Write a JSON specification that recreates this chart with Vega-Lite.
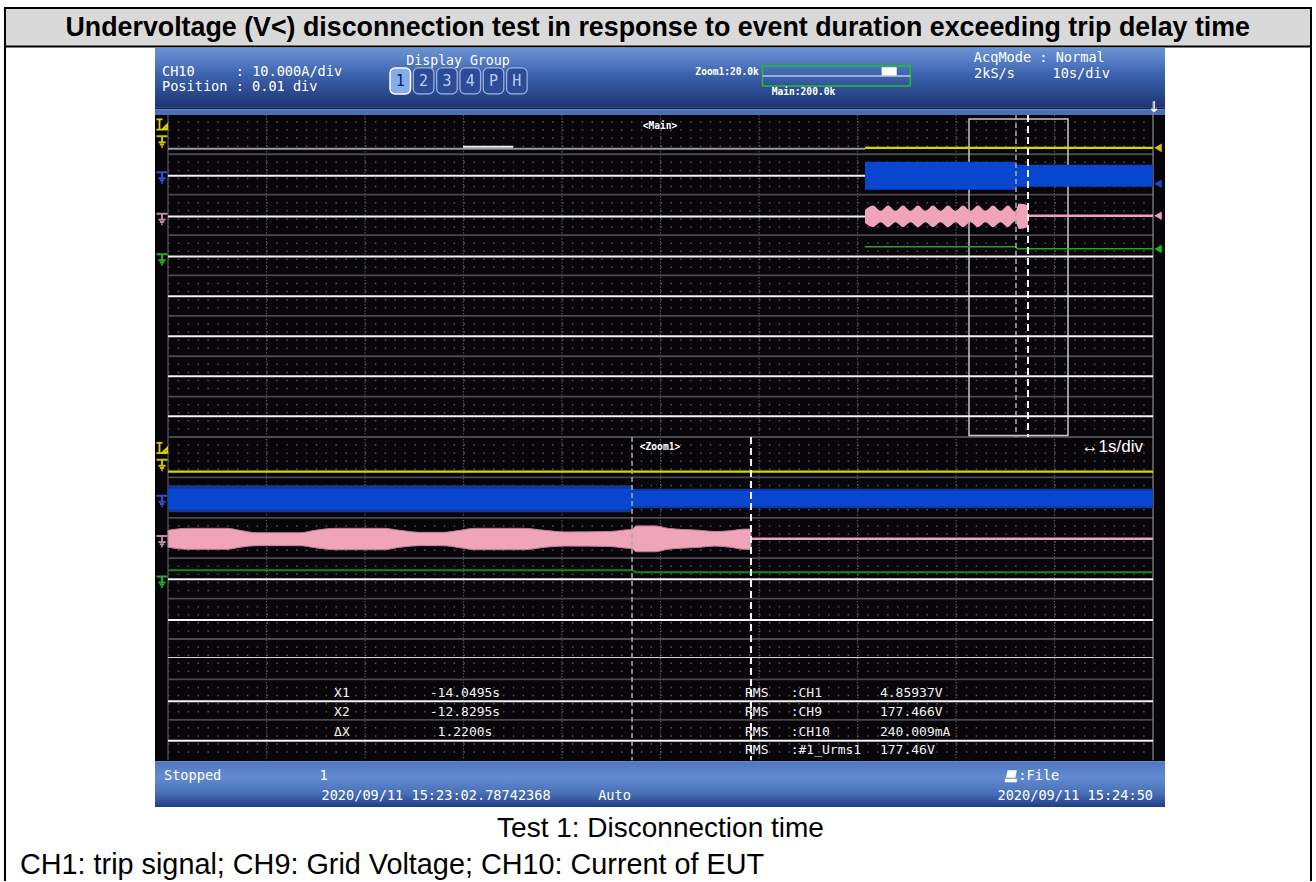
{
"$schema": "https://vega.github.io/schema/vega-lite/v6.json",
"width": 1316, "height": 882,
"autosize": {"type": "fit", "contains": "padding"},
"padding": 0,
"background": "#ffffff",
"config": {"view": {"stroke": null}},
"layer": [
{"data": {"values": [{"d": -1.655, "d2": 11.604, "z": -2.621, "z2": -1.669}]},
 "mark": {"type": "rect", "color": "#d9d9d9"},
 "encoding": {"x": {"field": "d", "type": "quantitative", "scale": {"domain": [-1.70558, 11.65482]}, "axis": null}, "x2": {"field": "d2"},
  "y": {"field": "z", "type": "quantitative", "scale": {"domain": [-2.81899, 18.9911], "reverse": true}, "axis": null}, "y2": {"field": "z2"}}},
{"data": {"values": [{"d": -1.665, "d2": 11.614, "z": -2.621}, {"d": -1.665, "d2": 11.614, "z": -1.669}]},
 "mark": {"type": "rule", "color": "#000000", "strokeWidth": 2},
 "encoding": {"x": {"field": "d", "type": "quantitative", "scale": {"domain": [-1.70558, 11.65482]}, "axis": null}, "x2": {"field": "d2"},
  "y": {"field": "z", "type": "quantitative", "scale": {"domain": [-2.81899, 18.9911], "reverse": true}, "axis": null}}},
{"data": {"values": [{"d": -1.655, "z": -2.645, "z2": 18.99}, {"d": 11.604, "z": -2.645, "z2": 18.99}]},
 "mark": {"type": "rule", "color": "#000000", "strokeWidth": 2},
 "encoding": {"x": {"field": "d", "type": "quantitative", "scale": {"domain": [-1.70558, 11.65482]}, "axis": null},
  "y": {"field": "z", "type": "quantitative", "scale": {"domain": [-2.81899, 18.9911], "reverse": true}, "axis": null}, "y2": {"field": "z2"}}},
{"data": {"values": [{"d": 4.972, "z": -2.13, "t": "Undervoltage (V<) disconnection test in response to event duration exceeding trip delay time"}]},
 "mark": {"type": "text", "font": "Liberation Sans", "fontWeight": "bold", "fontSize": 26.8, "color": "#000000", "align": "center", "baseline": "middle"},
 "encoding": {"x": {"field": "d", "type": "quantitative", "scale": {"domain": [-1.70558, 11.65482]}, "axis": null},
  "y": {"field": "z", "type": "quantitative", "scale": {"domain": [-2.81899, 18.9911], "reverse": true}, "axis": null}, "text": {"field": "t"}}},
{"data": {"values": [{"d": -0.132, "d2": 10.122, "z": -1.632, "z2": -0.166}]},
 "mark": {"type": "rect", "color": {"gradient": "linear", "x1": 0, "y1": 0, "x2": 0, "y2": 1, "stops": [{"offset": 0, "color": "#6b94d8"}, {"offset": 0.45, "color": "#3d63ae"}, {"offset": 1, "color": "#1b3474"}]}},
 "encoding": {"x": {"field": "d", "type": "quantitative", "scale": {"domain": [-1.70558, 11.65482]}, "axis": null}, "x2": {"field": "d2"},
  "y": {"field": "z", "type": "quantitative", "scale": {"domain": [-2.81899, 18.9911], "reverse": true}, "axis": null}, "y2": {"field": "z2"}}},
{"data": {"values": [{"d": -0.132, "d2": 10.122, "z": -0.166, "z2": -0.116}]},
 "mark": {"type": "rect", "color": "#0e1c48"},
 "encoding": {"x": {"field": "d", "type": "quantitative", "scale": {"domain": [-1.70558, 11.65482]}, "axis": null}, "x2": {"field": "d2"},
  "y": {"field": "z", "type": "quantitative", "scale": {"domain": [-2.81899, 18.9911], "reverse": true}, "axis": null}, "y2": {"field": "z2"}}},
{"data": {"values": [{"d": -0.132, "d2": 10.122, "z": -0.116, "z2": 0.025}]},
 "mark": {"type": "rect", "color": "#4a6fb6"},
 "encoding": {"x": {"field": "d", "type": "quantitative", "scale": {"domain": [-1.70558, 11.65482]}, "axis": null}, "x2": {"field": "d2"},
  "y": {"field": "z", "type": "quantitative", "scale": {"domain": [-2.81899, 18.9911], "reverse": true}, "axis": null}, "y2": {"field": "z2"}}},
{"data": {"values": [{"d": -0.132, "d2": 10.122, "z": 0.025, "z2": 16.024}]},
 "mark": {"type": "rect", "color": "#070509"},
 "encoding": {"x": {"field": "d", "type": "quantitative", "scale": {"domain": [-1.70558, 11.65482]}, "axis": null}, "x2": {"field": "d2"},
  "y": {"field": "z", "type": "quantitative", "scale": {"domain": [-2.81899, 18.9911], "reverse": true}, "axis": null}, "y2": {"field": "z2"}}},
{"data": {"values": [{"d": -0.132, "d2": 10.122, "z": 16.024, "z2": 17.161}]},
 "mark": {"type": "rect", "color": {"gradient": "linear", "x1": 0, "y1": 0, "x2": 0, "y2": 1, "stops": [{"offset": 0, "color": "#4e76bf"}, {"offset": 0.35, "color": "#638bd0"}, {"offset": 0.7, "color": "#4870b9"}, {"offset": 1, "color": "#1f3c83"}]}},
 "encoding": {"x": {"field": "d", "type": "quantitative", "scale": {"domain": [-1.70558, 11.65482]}, "axis": null}, "x2": {"field": "d2"},
  "y": {"field": "z", "type": "quantitative", "scale": {"domain": [-2.81899, 18.9911], "reverse": true}, "axis": null}, "y2": {"field": "z2"}}},
{"data": {"values": [{"z": 0.2}, {"z": 0.4}, {"z": 0.6}, {"z": 0.8}, {"z": 1.2}, {"z": 1.4}, {"z": 1.6}, {"z": 1.8}, {"z": 2.2}, {"z": 2.4}, {"z": 2.6}, {"z": 2.8}, {"z": 3.2}, {"z": 3.4}, {"z": 3.6}, {"z": 3.8}, {"z": 4.2}, {"z": 4.4}, {"z": 4.6}, {"z": 4.8}, {"z": 5.2}, {"z": 5.4}, {"z": 5.6}, {"z": 5.8}, {"z": 6.2}, {"z": 6.4}, {"z": 6.6}, {"z": 6.8}, {"z": 7.2}, {"z": 7.4}, {"z": 7.6}, {"z": 7.8}, {"z": 8.2}, {"z": 8.4}, {"z": 8.6}, {"z": 8.8}, {"z": 9.2}, {"z": 9.4}, {"z": 9.6}, {"z": 9.8}, {"z": 10.2}, {"z": 10.4}, {"z": 10.6}, {"z": 10.8}, {"z": 11.2}, {"z": 11.4}, {"z": 11.6}, {"z": 11.8}, {"z": 12.2}, {"z": 12.4}, {"z": 12.6}, {"z": 12.8}, {"z": 13.2}, {"z": 13.4}, {"z": 13.6}, {"z": 13.8}, {"z": 14.2}, {"z": 14.4}, {"z": 14.6}, {"z": 14.8}, {"z": 15.2}, {"z": 15.4}, {"z": 15.6}, {"z": 15.8}]},
 "mark": {"type": "rule", "color": "#555555", "strokeWidth": 1.5, "strokeDash": [1.5, 8.35]},
 "encoding": {"x": {"datum": 0, "type": "quantitative", "scale": {"domain": [-1.70558, 11.65482]}, "axis": null}, "x2": {"datum": 10},
  "y": {"field": "z", "type": "quantitative", "scale": {"domain": [-2.81899, 18.9911], "reverse": true}, "axis": null}}},
{"data": {"values": [{"d": 1}, {"d": 2}, {"d": 3}, {"d": 4}, {"d": 5}, {"d": 6}, {"d": 7}, {"d": 8}, {"d": 9}]},
 "mark": {"type": "rule", "color": "#505050", "strokeWidth": 1.2, "strokeDash": [1.5, 1.5]},
 "encoding": {"x": {"field": "d", "type": "quantitative", "scale": {"domain": [-1.70558, 11.65482]}, "axis": null},
  "y": {"datum": 0.03, "type": "quantitative", "scale": {"domain": [-2.81899, 18.9911], "reverse": true}, "axis": null}, "y2": {"datum": 16.0}}},
{"data": {"values": [{"z": 1}, {"z": 2}, {"z": 3}, {"z": 4}, {"z": 5}, {"z": 6}, {"z": 7}, {"z": 8}, {"z": 9}, {"z": 10}, {"z": 11}, {"z": 12}, {"z": 13}, {"z": 14}, {"z": 15}]},
 "mark": {"type": "rule", "color": "#4a4a4a", "strokeWidth": 1.8},
 "encoding": {"x": {"datum": 0, "type": "quantitative", "scale": {"domain": [-1.70558, 11.65482]}, "axis": null}, "x2": {"datum": 10},
  "y": {"field": "z", "type": "quantitative", "scale": {"domain": [-2.81899, 18.9911], "reverse": true}, "axis": null}}},
{"data": {"values": [{"d": 0}]},
 "mark": {"type": "rule", "color": "#4a4a4a", "strokeWidth": 1.5},
 "encoding": {"x": {"field": "d", "type": "quantitative", "scale": {"domain": [-1.70558, 11.65482]}, "axis": null},
  "y": {"datum": 0.025, "type": "quantitative", "scale": {"domain": [-2.81899, 18.9911], "reverse": true}, "axis": null}, "y2": {"datum": 16.0}}},
{"data": {"values": [{"d": 10}]},
 "mark": {"type": "rule", "color": "#8a8a8a", "strokeWidth": 1.2},
 "encoding": {"x": {"field": "d", "type": "quantitative", "scale": {"domain": [-1.70558, 11.65482]}, "axis": null},
  "y": {"datum": -0.3, "type": "quantitative", "scale": {"domain": [-2.81899, 18.9911], "reverse": true}, "axis": null}, "y2": {"datum": 16.0}}},
{"data": {"values": [{"d": 8.132, "d2": 9.137, "z": 0.124, "z2": 7.962}]},
 "mark": {"type": "rect", "fill": "transparent", "stroke": "#c8c8c8", "strokeWidth": 1.5},
 "encoding": {"x": {"field": "d", "type": "quantitative", "scale": {"domain": [-1.70558, 11.65482]}, "axis": null}, "x2": {"field": "d2"},
  "y": {"field": "z", "type": "quantitative", "scale": {"domain": [-2.81899, 18.9911], "reverse": true}, "axis": null}, "y2": {"field": "z2"}}},
{"data": {"values": [{"d": 0, "d2": 7.076, "z": 1.533}, {"d": 0, "d2": 7.076, "z": 2.54}, {"d": 0, "d2": 10, "z": 3.529}, {"d": 0, "d2": 10, "z": 4.518}, {"d": 0, "d2": 10, "z": 5.507}, {"d": 0, "d2": 10, "z": 6.496}, {"d": 0, "d2": 10, "z": 7.485}, {"d": 0, "d2": 10, "z": 11.523}, {"d": 0, "d2": 10, "z": 12.53}, {"d": 0, "d2": 10, "z": 14.54}, {"d": 0, "d2": 10, "z": 15.522}]},
 "mark": {"type": "rule", "color": "#f2f2f2", "strokeWidth": 2},
 "encoding": {"x": {"field": "d", "type": "quantitative", "scale": {"domain": [-1.70558, 11.65482]}, "axis": null}, "x2": {"field": "d2"},
  "y": {"field": "z", "type": "quantitative", "scale": {"domain": [-2.81899, 18.9911], "reverse": true}, "axis": null}}},
{"data": {"values": [{"d": 0, "d2": 10, "z": 13.459}]},
 "mark": {"type": "rule", "color": "#d8d8d8", "strokeWidth": 1},
 "encoding": {"x": {"field": "d", "type": "quantitative", "scale": {"domain": [-1.70558, 11.65482]}, "axis": null}, "x2": {"field": "d2"},
  "y": {"field": "z", "type": "quantitative", "scale": {"domain": [-2.81899, 18.9911], "reverse": true}, "axis": null}}},
{"data": {"values": [{"d": 0, "d2": 7.076, "z": 0.865}]},
 "mark": {"type": "rule", "color": "#9a9a9a", "strokeWidth": 2},
 "encoding": {"x": {"field": "d", "type": "quantitative", "scale": {"domain": [-1.70558, 11.65482]}, "axis": null}, "x2": {"field": "d2"},
  "y": {"field": "z", "type": "quantitative", "scale": {"domain": [-2.81899, 18.9911], "reverse": true}, "axis": null}}},
{"data": {"values": [{"d": 2.995, "d2": 3.503, "z": 0.816}]},
 "mark": {"type": "rule", "color": "#eeeeee", "strokeWidth": 2},
 "encoding": {"x": {"field": "d", "type": "quantitative", "scale": {"domain": [-1.70558, 11.65482]}, "axis": null}, "x2": {"field": "d2"},
  "y": {"field": "z", "type": "quantitative", "scale": {"domain": [-2.81899, 18.9911], "reverse": true}, "axis": null}}},
{"data": {"values": [{"d": 7.076, "d2": 10, "z": 0.84}, {"d": 0, "d2": 10, "z": 8.855}]},
 "mark": {"type": "rule", "color": "#d8d400", "strokeWidth": 2.2},
 "encoding": {"x": {"field": "d", "type": "quantitative", "scale": {"domain": [-1.70558, 11.65482]}, "axis": null}, "x2": {"field": "d2"},
  "y": {"field": "z", "type": "quantitative", "scale": {"domain": [-2.81899, 18.9911], "reverse": true}, "axis": null}}},
{"data": {"values": [{"d": 0, "d2": 4.711, "z": 9.196, "z2": 9.864}, {"d": 4.711, "d2": 10, "z": 9.283, "z2": 9.763}]},
 "mark": {"type": "rect", "color": "#15379a"},
 "encoding": {"x": {"field": "d", "type": "quantitative", "scale": {"domain": [-1.70558, 11.65482]}, "axis": null}, "x2": {"field": "d2"},
  "y": {"field": "z", "type": "quantitative", "scale": {"domain": [-2.81899, 18.9911], "reverse": true}, "axis": null}, "y2": {"field": "z2"}}},
{"data": {"values": [{"d": 7.076, "d2": 8.609, "z": 1.187, "z2": 1.879}, {"d": 8.609, "d2": 10, "z": 1.261, "z2": 1.805}, {"d": 0, "d2": 4.711, "z": 9.28, "z2": 9.792}, {"d": 4.711, "d2": 10, "z": 9.33, "z2": 9.711}]},
 "mark": {"type": "rect", "color": "#0846cf"},
 "encoding": {"x": {"field": "d", "type": "quantitative", "scale": {"domain": [-1.70558, 11.65482]}, "axis": null}, "x2": {"field": "d2"},
  "y": {"field": "z", "type": "quantitative", "scale": {"domain": [-2.81899, 18.9911], "reverse": true}, "axis": null}, "y2": {"field": "z2"}}},
{"data": {"values": [{"d": 7.076, "zt": 2.38, "zb": 2.70}, {"d": 7.157, "zt": 2.27, "zb": 2.80}, {"d": 7.234, "zt": 2.40, "zb": 2.68}, {"d": 7.310, "zt": 2.27, "zb": 2.80}, {"d": 7.386, "zt": 2.40, "zb": 2.68}, {"d": 7.462, "zt": 2.27, "zb": 2.80}, {"d": 7.538, "zt": 2.40, "zb": 2.68}, {"d": 7.614, "zt": 2.27, "zb": 2.80}, {"d": 7.690, "zt": 2.40, "zb": 2.68}, {"d": 7.766, "zt": 2.27, "zb": 2.80}, {"d": 7.843, "zt": 2.40, "zb": 2.68}, {"d": 7.919, "zt": 2.27, "zb": 2.80}, {"d": 7.995, "zt": 2.40, "zb": 2.68}, {"d": 8.071, "zt": 2.27, "zb": 2.80}, {"d": 8.147, "zt": 2.40, "zb": 2.68}, {"d": 8.223, "zt": 2.27, "zb": 2.80}, {"d": 8.299, "zt": 2.40, "zb": 2.68}, {"d": 8.376, "zt": 2.27, "zb": 2.80}, {"d": 8.452, "zt": 2.40, "zb": 2.68}, {"d": 8.528, "zt": 2.27, "zb": 2.80}, {"d": 8.600, "zt": 2.42, "zb": 2.66}, {"d": 8.640, "zt": 2.22, "zb": 2.85}, {"d": 8.731, "zt": 2.26, "zb": 2.80}]},
 "mark": {"type": "area", "color": "#f0a4b9", "interpolate": "monotone"},
 "encoding": {"x": {"field": "d", "type": "quantitative", "scale": {"domain": [-1.70558, 11.65482]}, "axis": null},
  "y": {"field": "zt", "type": "quantitative", "scale": {"domain": [-2.81899, 18.9911], "reverse": true}, "axis": null}, "y2": {"field": "zb"}}},
{"data": {"values": [{"d": 0, "zt": 10.31, "zb": 10.73}, {"d": 0.193, "zt": 10.26, "zb": 10.78}, {"d": 0.599, "zt": 10.26, "zb": 10.78}, {"d": 0.731, "zt": 10.31, "zb": 10.73}, {"d": 0.904, "zt": 10.37, "zb": 10.69}, {"d": 1.340, "zt": 10.37, "zb": 10.69}, {"d": 1.492, "zt": 10.31, "zb": 10.74}, {"d": 1.695, "zt": 10.26, "zb": 10.79}, {"d": 2.183, "zt": 10.26, "zb": 10.79}, {"d": 2.355, "zt": 10.31, "zb": 10.73}, {"d": 2.558, "zt": 10.36, "zb": 10.69}, {"d": 2.792, "zt": 10.36, "zb": 10.69}, {"d": 2.964, "zt": 10.31, "zb": 10.74}, {"d": 3.117, "zt": 10.26, "zb": 10.79}, {"d": 3.604, "zt": 10.26, "zb": 10.79}, {"d": 3.827, "zt": 10.31, "zb": 10.73}, {"d": 4.030, "zt": 10.35, "zb": 10.70}, {"d": 4.487, "zt": 10.34, "zb": 10.71}, {"d": 4.640, "zt": 10.30, "zb": 10.75}, {"d": 4.711, "zt": 10.29, "zb": 10.76}, {"d": 4.751, "zt": 10.20, "zb": 10.84}, {"d": 4.944, "zt": 10.20, "zb": 10.84}, {"d": 5.076, "zt": 10.26, "zb": 10.78}, {"d": 5.401, "zt": 10.31, "zb": 10.73}, {"d": 5.553, "zt": 10.34, "zb": 10.70}, {"d": 5.706, "zt": 10.32, "zb": 10.73}, {"d": 5.858, "zt": 10.28, "zb": 10.78}, {"d": 5.919, "zt": 10.28, "zb": 10.78}]},
 "mark": {"type": "area", "color": "#f0a4b9", "interpolate": "monotone", "stroke": "#b98094", "strokeWidth": 1},
 "encoding": {"x": {"field": "d", "type": "quantitative", "scale": {"domain": [-1.70558, 11.65482]}, "axis": null},
  "y": {"field": "zt", "type": "quantitative", "scale": {"domain": [-2.81899, 18.9911], "reverse": true}, "axis": null}, "y2": {"field": "zb"}}},
{"data": {"values": [{"d": 8.731, "d2": 10, "z": 2.522}, {"d": 5.919, "d2": 10, "z": 10.517}]},
 "mark": {"type": "rule", "color": "#eea3b8", "strokeWidth": 2.5},
 "encoding": {"x": {"field": "d", "type": "quantitative", "scale": {"domain": [-1.70558, 11.65482]}, "axis": null}, "x2": {"field": "d2"},
  "y": {"field": "z", "type": "quantitative", "scale": {"domain": [-2.81899, 18.9911], "reverse": true}, "axis": null}}},
{"data": {"values": [{"d": 7.076, "z": 3.289}, {"d": 8.609, "z": 3.289}, {"d": 8.62, "z": 3.338}, {"d": 10, "z": 3.338}]},
 "mark": {"type": "line", "color": "#22aa22", "strokeWidth": 1.5},
 "encoding": {"x": {"field": "d", "type": "quantitative", "scale": {"domain": [-1.70558, 11.65482]}, "axis": null},
  "y": {"field": "z", "type": "quantitative", "scale": {"domain": [-2.81899, 18.9911], "reverse": true}, "axis": null}}},
{"data": {"values": [{"d": 0, "z": 11.30}, {"d": 4.711, "z": 11.30}, {"d": 4.75, "z": 11.345}, {"d": 10, "z": 11.345}]},
 "mark": {"type": "line", "color": "#108c10", "strokeWidth": 2},
 "encoding": {"x": {"field": "d", "type": "quantitative", "scale": {"domain": [-1.70558, 11.65482]}, "axis": null},
  "y": {"field": "z", "type": "quantitative", "scale": {"domain": [-2.81899, 18.9911], "reverse": true}, "axis": null}}},
{"data": {"values": [{"d": 8.609, "z": 0.025, "z2": 8}, {"d": 4.711, "z": 8, "z2": 16}]},
 "mark": {"type": "rule", "color": "#a8a8a8", "strokeWidth": 1.5, "strokeDash": [5, 3]},
 "encoding": {"x": {"field": "d", "type": "quantitative", "scale": {"domain": [-1.70558, 11.65482]}, "axis": null},
  "y": {"field": "z", "type": "quantitative", "scale": {"domain": [-2.81899, 18.9911], "reverse": true}, "axis": null}, "y2": {"field": "z2"}}},
{"data": {"values": [{"d": 8.731, "z": 0.025, "z2": 8}, {"d": 5.919, "z": 8, "z2": 16}]},
 "mark": {"type": "rule", "color": "#f4f4f4", "strokeWidth": 2, "strokeDash": [7, 4]},
 "encoding": {"x": {"field": "d", "type": "quantitative", "scale": {"domain": [-1.70558, 11.65482]}, "axis": null},
  "y": {"field": "z", "type": "quantitative", "scale": {"domain": [-2.81899, 18.9911], "reverse": true}, "axis": null}, "y2": {"field": "z2"}}},
{"data": {"values": [{"d": -0.061, "z": 0.692, "c": "y"}, {"d": -0.061, "z": 1.583, "c": "b"}, {"d": -0.061, "z": 2.609, "c": "p"}, {"d": -0.061, "z": 3.61, "c": "g"}, {"d": -0.061, "z": 8.697, "c": "y"}, {"d": -0.061, "z": 9.59, "c": "b"}, {"d": -0.061, "z": 10.584, "c": "p"}, {"d": -0.061, "z": 11.59, "c": "g"}]},
 "mark": {"type": "point", "shape": "M-1,-1H1M0,-1V0.1M-0.65,0.1H0.65M-0.4,0.5H0.4M-0.15,0.9H0.15", "size": 121, "filled": false, "strokeWidth": 2, "opacity": 1},
 "encoding": {"x": {"field": "d", "type": "quantitative", "scale": {"domain": [-1.70558, 11.65482]}, "axis": null},
  "y": {"field": "z", "type": "quantitative", "scale": {"domain": [-2.81899, 18.9911], "reverse": true}, "axis": null},
  "stroke": {"field": "c", "type": "nominal", "scale": {"domain": ["y", "b", "p", "g"], "range": ["#c8c000", "#2a52d4", "#c08898", "#22b022"]}, "legend": null}}},
{"data": {"values": [{"d": -0.061, "z": 0.26}, {"d": -0.061, "z": 8.267}]},
 "mark": {"type": "point", "shape": "M-1,-0.9H0.1M-0.45,-0.9V0.9M-1,0.95H1M0.15,0.8L0.95,0V0.8Z", "size": 121, "filled": false, "strokeWidth": 1.8, "opacity": 1, "color": "#d8d000"},
 "encoding": {"x": {"field": "d", "type": "quantitative", "scale": {"domain": [-1.70558, 11.65482]}, "axis": null},
  "y": {"field": "z", "type": "quantitative", "scale": {"domain": [-2.81899, 18.9911], "reverse": true}, "axis": null}}},
{"data": {"values": [{"d": 10.051, "z": 0.841, "c": "y"}, {"d": 10.051, "z": 1.731, "c": "b"}, {"d": 10.051, "z": 2.522, "c": "p"}, {"d": 10.051, "z": 3.346, "c": "g"}]},
 "mark": {"type": "point", "shape": "triangle-left", "size": 75, "filled": true, "opacity": 1},
 "encoding": {"x": {"field": "d", "type": "quantitative", "scale": {"domain": [-1.70558, 11.65482]}, "axis": null},
  "y": {"field": "z", "type": "quantitative", "scale": {"domain": [-2.81899, 18.9911], "reverse": true}, "axis": null},
  "fill": {"field": "c", "type": "nominal", "scale": {"domain": ["y", "b", "p", "g"], "range": ["#d0c800", "#1a4ad0", "#f0a0b8", "#10c010"]}, "legend": null}}},
{"data": {"values": [{"d": 2.491, "d2": 2.699}, {"d": 2.728, "d2": 2.936}, {"d": 2.964, "d2": 3.173}, {"d": 3.201, "d2": 3.409}, {"d": 3.438, "d2": 3.646}]},
 "mark": {"type": "rect", "color": "#2c4c96", "stroke": "#9db3e0", "strokeWidth": 1.2, "cornerRadius": 5},
 "encoding": {"x": {"field": "d", "type": "quantitative", "scale": {"domain": [-1.70558, 11.65482]}, "axis": null}, "x2": {"field": "d2"},
  "y": {"datum": -1.137, "type": "quantitative", "scale": {"domain": [-2.81899, 18.9911], "reverse": true}, "axis": null}, "y2": {"datum": -0.495}}},
{"data": {"values": [{"d": 2.254, "d2": 2.462}]},
 "mark": {"type": "rect", "color": "#84acee", "stroke": "#ffffff", "strokeWidth": 1.5, "cornerRadius": 5},
 "encoding": {"x": {"field": "d", "type": "quantitative", "scale": {"domain": [-1.70558, 11.65482]}, "axis": null}, "x2": {"field": "d2"},
  "y": {"datum": -1.137, "type": "quantitative", "scale": {"domain": [-2.81899, 18.9911], "reverse": true}, "axis": null}, "y2": {"datum": -0.495}}},
{"data": {"values": [{"d": 2.595, "t": "2"}, {"d": 2.832, "t": "3"}, {"d": 3.069, "t": "4"}, {"d": 3.305, "t": "P"}, {"d": 3.542, "t": "H"}]},
 "mark": {"type": "text", "font": "DejaVu Sans Mono", "fontSize": 15, "color": "#b8cdf5", "align": "center", "baseline": "middle"},
 "encoding": {"x": {"field": "d", "type": "quantitative", "scale": {"domain": [-1.70558, 11.65482]}, "axis": null},
  "y": {"datum": -0.816, "type": "quantitative", "scale": {"domain": [-2.81899, 18.9911], "reverse": true}, "axis": null}, "text": {"field": "t"}}},
{"data": {"values": [{"d": 2.358, "t": "1"}]},
 "mark": {"type": "text", "font": "DejaVu Sans Mono", "fontSize": 15, "color": "#0c1c50", "align": "center", "baseline": "middle"},
 "encoding": {"x": {"field": "d", "type": "quantitative", "scale": {"domain": [-1.70558, 11.65482]}, "axis": null},
  "y": {"datum": -0.816, "type": "quantitative", "scale": {"domain": [-2.81899, 18.9911], "reverse": true}, "axis": null}, "text": {"field": "t"}}},
{"data": {"values": [{"d": 6.036, "d2": 7.535, "z": -1.187, "z2": -0.692}]},
 "mark": {"type": "rect", "fill": "transparent", "stroke": "#22c022", "strokeWidth": 1.5},
 "encoding": {"x": {"field": "d", "type": "quantitative", "scale": {"domain": [-1.70558, 11.65482]}, "axis": null}, "x2": {"field": "d2"},
  "y": {"field": "z", "type": "quantitative", "scale": {"domain": [-2.81899, 18.9911], "reverse": true}, "axis": null}, "y2": {"field": "z2"}}},
{"data": {"values": [{"d": 6.036, "d2": 7.535, "z": -0.94}]},
 "mark": {"type": "rule", "color": "#c0c8d8", "strokeWidth": 1.5},
 "encoding": {"x": {"field": "d", "type": "quantitative", "scale": {"domain": [-1.70558, 11.65482]}, "axis": null}, "x2": {"field": "d2"},
  "y": {"field": "z", "type": "quantitative", "scale": {"domain": [-2.81899, 18.9911], "reverse": true}, "axis": null}}},
{"data": {"values": [{"d": 7.245, "d2": 7.398, "z": -1.155, "z2": -0.952}]},
 "mark": {"type": "rect", "color": "#ffffff"},
 "encoding": {"x": {"field": "d", "type": "quantitative", "scale": {"domain": [-1.70558, 11.65482]}, "axis": null}, "x2": {"field": "d2"},
  "y": {"field": "z", "type": "quantitative", "scale": {"domain": [-2.81899, 18.9911], "reverse": true}, "axis": null}, "y2": {"field": "z2"}}},
{"data": {"values": [{"d": -0.061, "z": -1.039, "t": "CH10"}, {"d": 0.688, "z": -1.039, "t": ": 10.000A/div"}, {"d": -0.061, "z": -0.655, "t": "Position : 0.01 div"}, {"d": 8.181, "z": -1.377, "t": "AcqMode : Normal"}, {"d": 8.183, "z": -0.989, "t": "2kS/s"}, {"d": 8.98, "z": -0.989, "t": "10s/div"}, {"d": -0.041, "z": 16.395, "t": "Stopped"}, {"d": 1.539, "z": 16.395, "t": "1"}, {"d": 1.558, "z": 16.889, "t": "2020/09/11 15:23:02.78742368"}, {"d": 4.367, "z": 16.889, "t": "Auto"}, {"d": 8.633, "z": 16.395, "t": ":File"}]},
 "mark": {"type": "text", "font": "DejaVu Sans Mono", "fontSize": 13.6, "color": "#ffffff", "align": "left", "baseline": "middle"},
 "encoding": {"x": {"field": "d", "type": "quantitative", "scale": {"domain": [-1.70558, 11.65482]}, "axis": null},
  "y": {"field": "z", "type": "quantitative", "scale": {"domain": [-2.81899, 18.9911], "reverse": true}, "axis": null}, "text": {"field": "t"}}},
{"data": {"values": [{"d": 10.0, "z": 16.889, "t": "2020/09/11 15:24:50"}]},
 "mark": {"type": "text", "font": "DejaVu Sans Mono", "fontSize": 13.6, "color": "#ffffff", "align": "right", "baseline": "middle"},
 "encoding": {"x": {"field": "d", "type": "quantitative", "scale": {"domain": [-1.70558, 11.65482]}, "axis": null},
  "y": {"field": "z", "type": "quantitative", "scale": {"domain": [-2.81899, 18.9911], "reverse": true}, "axis": null}, "text": {"field": "t"}}},
{"data": {"values": [{"d": 2.944, "z": -1.311, "t": "Display Group"}]},
 "mark": {"type": "text", "font": "DejaVu Sans Mono", "fontSize": 13.2, "color": "#ffffff", "align": "center", "baseline": "middle"},
 "encoding": {"x": {"field": "d", "type": "quantitative", "scale": {"domain": [-1.70558, 11.65482]}, "axis": null},
  "y": {"field": "z", "type": "quantitative", "scale": {"domain": [-2.81899, 18.9911], "reverse": true}, "axis": null}, "text": {"field": "t"}}},
{"data": {"values": [{"d": 5.999, "z": -1.039, "t": "Zoom1:20.0k"}]},
 "mark": {"type": "text", "font": "DejaVu Sans Mono", "fontSize": 9.6, "fontWeight": "bold", "color": "#ffffff", "align": "right", "baseline": "middle"},
 "encoding": {"x": {"field": "d", "type": "quantitative", "scale": {"domain": [-1.70558, 11.65482]}, "axis": null},
  "y": {"field": "z", "type": "quantitative", "scale": {"domain": [-2.81899, 18.9911], "reverse": true}, "axis": null}, "text": {"field": "t"}}},
{"data": {"values": [{"d": 6.129, "z": -0.551, "t": "Main:200.0k"}]},
 "mark": {"type": "text", "font": "DejaVu Sans Mono", "fontSize": 9.6, "fontWeight": "bold", "color": "#ffffff", "align": "left", "baseline": "middle"},
 "encoding": {"x": {"field": "d", "type": "quantitative", "scale": {"domain": [-1.70558, 11.65482]}, "axis": null},
  "y": {"field": "z", "type": "quantitative", "scale": {"domain": [-2.81899, 18.9911], "reverse": true}, "axis": null}, "text": {"field": "t"}}},
{"data": {"values": [{"d": 4.995, "z": 0.297, "t": "<Main>"}, {"d": 4.995, "z": 8.247, "t": "<Zoom1>"}]},
 "mark": {"type": "text", "font": "DejaVu Sans Mono", "fontSize": 9.6, "fontWeight": "bold", "color": "#ffffff", "align": "center", "baseline": "middle"},
 "encoding": {"x": {"field": "d", "type": "quantitative", "scale": {"domain": [-1.70558, 11.65482]}, "axis": null},
  "y": {"field": "z", "type": "quantitative", "scale": {"domain": [-2.81899, 18.9911], "reverse": true}, "axis": null}, "text": {"field": "t"}}},
{"data": {"values": [{"d": 9.898, "z": 8.259, "t": "↔1s/div"}]},
 "mark": {"type": "text", "font": "Liberation Sans", "fontSize": 17, "color": "#ffffff", "align": "right", "baseline": "middle"},
 "encoding": {"x": {"field": "d", "type": "quantitative", "scale": {"domain": [-1.70558, 11.65482]}, "axis": null},
  "y": {"field": "z", "type": "quantitative", "scale": {"domain": [-2.81899, 18.9911], "reverse": true}, "axis": null}, "text": {"field": "t"}}},
{"data": {"values": [{"d": 10.01, "z": -0.17, "t": "↓"}]},
 "mark": {"type": "text", "font": "DejaVu Sans", "fontSize": 15, "color": "#ffffff", "align": "center", "baseline": "middle"},
 "encoding": {"x": {"field": "d", "type": "quantitative", "scale": {"domain": [-1.70558, 11.65482]}, "axis": null},
  "y": {"field": "z", "type": "quantitative", "scale": {"domain": [-2.81899, 18.9911], "reverse": true}, "axis": null}, "text": {"field": "t"}}},
{"data": {"values": [{"d": 8.557, "z": 16.395}]},
 "mark": {"type": "point", "shape": "M-0.55,-1H1L0.75,0.25H-0.8Z M-1,0.45H1V1H-1Z", "size": 144, "filled": true, "opacity": 1, "color": "#ffffff"},
 "encoding": {"x": {"field": "d", "type": "quantitative", "scale": {"domain": [-1.70558, 11.65482]}, "axis": null},
  "y": {"field": "z", "type": "quantitative", "scale": {"domain": [-2.81899, 18.9911], "reverse": true}, "axis": null}}},
{"data": {"values": [{"d": 1.766, "z": 14.33, "t": "X1"}, {"d": 1.766, "z": 14.81, "t": "X2"}, {"d": 1.766, "z": 15.295, "t": "ΔX"}, {"d": 3.015, "z": 14.33, "t": "-14.0495s"}, {"d": 3.015, "z": 14.81, "t": "-12.8295s"}, {"d": 3.015, "z": 15.295, "t": "1.2200s"}]},
 "mark": {"type": "text", "font": "DejaVu Sans Mono", "fontSize": 13, "color": "#f2f2f2", "align": "center", "baseline": "middle"},
 "encoding": {"x": {"field": "d", "type": "quantitative", "scale": {"domain": [-1.70558, 11.65482]}, "axis": null},
  "y": {"field": "z", "type": "quantitative", "scale": {"domain": [-2.81899, 18.9911], "reverse": true}, "axis": null}, "text": {"field": "t"}}},
{"data": {"values": [{"d": 5.858, "z": 14.33, "t": "RMS"}, {"d": 5.858, "z": 14.81, "t": "RMS"}, {"d": 5.858, "z": 15.295, "t": "RMS"}, {"d": 5.858, "z": 15.75, "t": "RMS"}, {"d": 6.322, "z": 14.33, "t": ":CH1"}, {"d": 6.322, "z": 14.81, "t": ":CH9"}, {"d": 6.322, "z": 15.295, "t": ":CH10"}, {"d": 6.322, "z": 15.75, "t": ":#1_Urms1"}, {"d": 7.228, "z": 14.33, "t": "4.85937V"}, {"d": 7.228, "z": 14.81, "t": "177.466V"}, {"d": 7.228, "z": 15.295, "t": "240.009mA"}, {"d": 7.228, "z": 15.75, "t": "177.46V"}]},
 "mark": {"type": "text", "font": "DejaVu Sans Mono", "fontSize": 13, "color": "#f2f2f2", "align": "left", "baseline": "middle"},
 "encoding": {"x": {"field": "d", "type": "quantitative", "scale": {"domain": [-1.70558, 11.65482]}, "axis": null},
  "y": {"field": "z", "type": "quantitative", "scale": {"domain": [-2.81899, 18.9911], "reverse": true}, "axis": null}, "text": {"field": "t"}}},
{"data": {"values": [{"d": 5.0, "z": 17.705, "t": "Test 1: Disconnection time"}]},
 "mark": {"type": "text", "font": "Liberation Sans", "fontSize": 28, "color": "#000000", "align": "center", "baseline": "middle"},
 "encoding": {"x": {"field": "d", "type": "quantitative", "scale": {"domain": [-1.70558, 11.65482]}, "axis": null},
  "y": {"field": "z", "type": "quantitative", "scale": {"domain": [-2.81899, 18.9911], "reverse": true}, "axis": null}, "text": {"field": "t"}}},
{"data": {"values": [{"d": -1.503, "z": 18.595, "t": "CH1: trip signal; CH9: Grid Voltage; CH10: Current of EUT"}]},
 "mark": {"type": "text", "font": "Liberation Sans", "fontSize": 28.8, "color": "#000000", "align": "left", "baseline": "middle"},
 "encoding": {"x": {"field": "d", "type": "quantitative", "scale": {"domain": [-1.70558, 11.65482]}, "axis": null},
  "y": {"field": "z", "type": "quantitative", "scale": {"domain": [-2.81899, 18.9911], "reverse": true}, "axis": null}, "text": {"field": "t"}}}
]
}
